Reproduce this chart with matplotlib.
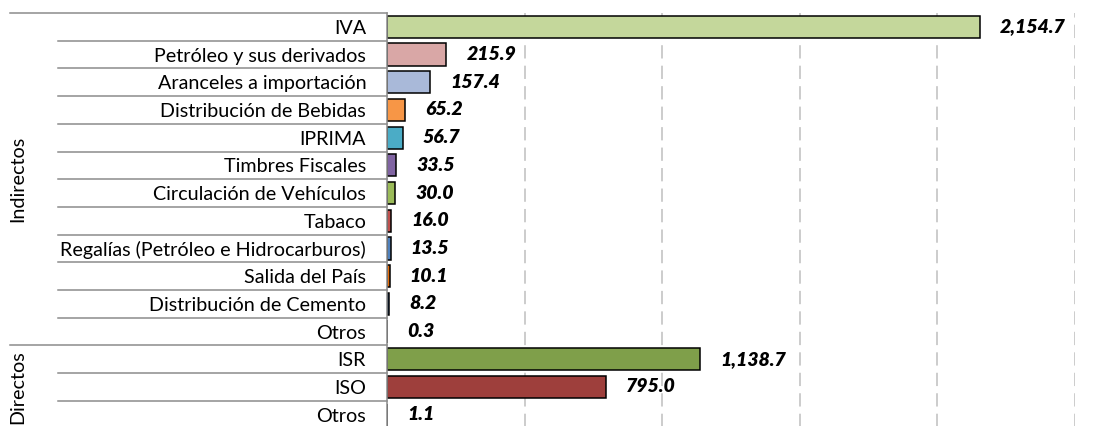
import matplotlib.pyplot as plt
import matplotlib.transforms as mtransforms

categories = [
    "IVA",
    "Petróleo y sus derivados",
    "Aranceles a importación",
    "Distribución de Bebidas",
    "IPRIMA",
    "Timbres Fiscales",
    "Circulación de Vehículos",
    "Tabaco",
    "Regalías (Petróleo e Hidrocarburos)",
    "Salida del País",
    "Distribución de Cemento",
    "Otros",
    "ISR",
    "ISO",
    "Otros",
]
values = [2154.7, 215.9, 157.4, 65.2, 56.7, 33.5, 30.0, 16.0, 13.5, 10.1, 8.2, 0.3,
          1138.7, 795.0, 1.1]
colors = ["#C4D79B", "#D9A7A6", "#A9B9D9", "#F79646", "#4BACC6", "#8064A2", "#9BBB59",
          "#C0504D", "#4F81BD", "#E46C0A", "#1F497D", "#C0504D",
          "#7F9F4A", "#9E3F3C", "#9E3F3C"]
groups = ["Indirectos", "Directos"]
group_sizes = [12, 3]

plt.rcParams["font.family"] = ["Lato", "DejaVu Sans"]

W, H = 1101, 426
fig = plt.figure(figsize=(W / 100, H / 100), dpi=100)
x0, x1, ytop, ybot = 387, 1075, 13, 428.5
ax = fig.add_axes([x0 / W, 1 - ybot / H, (x1 - x0) / W, (ybot - ytop) / H])

y = list(range(len(categories)))
ax.barh(y, values, height=0.8, color=colors, edgecolor="black", linewidth=1.1, zorder=3)
ax.set_xlim(0, 2500)
ax.set_ylim(len(categories) - 0.5, -0.5)
ax.set_xticks([500, 1000, 1500, 2000, 2500])
ax.xaxis.grid(True, color="#BFBFBF", linewidth=1.1, linestyle=(0, (8.7, 4.7)), zorder=0)
ax.tick_params(axis="x", length=0, labelbottom=False)
for s in ["top", "right", "bottom"]:
    ax.spines[s].set_visible(False)
ax.spines["left"].set_color("#8C8C8C")
ax.spines["left"].set_linewidth(1.1)
ax.spines["left"].set_zorder(4)

ax.set_yticks(y)
ax.set_yticklabels(categories, fontsize=14.2)
ax.tick_params(axis="y", length=0, pad=15)

# value labels
for yi, v in zip(y, values):
    off = mtransforms.offset_copy(ax.transData, fig=fig, x=20 * 0.72, y=0, units="points")
    ax.text(v, yi, f"{v:,.1f}", transform=off, ha="left", va="center",
            fontsize=14, fontweight="heavy", fontstyle="italic", color="black")

# category separators and group lines (multi-level axis)
trans = mtransforms.blended_transform_factory(ax.transAxes, ax.transData)
xs_short = (58 - x0) / (x1 - x0)
xs_long = (10 - x0) / (x1 - x0)
group_bounds = [-0.5]
for g in group_sizes:
    group_bounds.append(group_bounds[-1] + g)
for k in range(len(categories) + 1):
    b = k - 0.5
    start = xs_long if b in group_bounds else xs_short
    ax.plot([start, 0], [b, b], transform=trans, color="#8C8C8C", lw=1.1, clip_on=False)

xg = (18 - x0) / (x1 - x0)
for name, lo, hi in zip(groups, group_bounds[:-1], group_bounds[1:]):
    ax.text(xg, (lo + hi) / 2, name, transform=trans, rotation=90, ha="center",
            va="center", fontsize=14.2)

fig.savefig("out.png", dpi=100)
